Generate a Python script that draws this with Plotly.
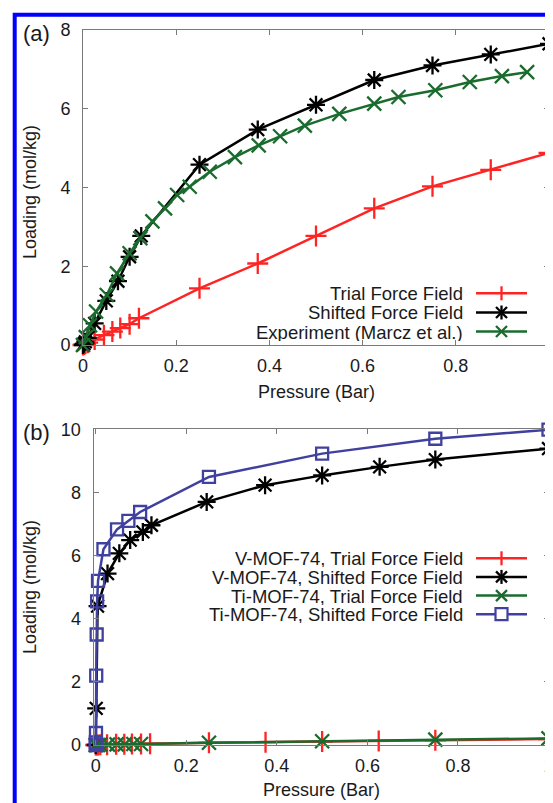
import plotly.graph_objects as go

# ---------------- data: panel (a) ----------------
trial_x = [0, 0.002, 0.005, 0.01, 0.025, 0.045, 0.063, 0.08, 0.1, 0.12, 0.25, 0.375, 0.5, 0.625, 0.75, 0.875, 1.0]
trial_y = [0, 0.01, 0.03, 0.06, 0.14, 0.25, 0.34, 0.43, 0.53, 0.68, 1.44, 2.07, 2.77, 3.47, 4.03, 4.45, 4.88]

shifted_x = [0, 0.002, 0.005, 0.01, 0.025, 0.05, 0.075, 0.1, 0.125, 0.25, 0.375, 0.5, 0.625, 0.75, 0.875, 1.0]
shifted_y = [0, 0.03, 0.08, 0.18, 0.55, 1.12, 1.62, 2.24, 2.77, 4.58, 5.47, 6.1, 6.73, 7.1, 7.38, 7.65]

exp_x = [0.0, 0.006, 0.015, 0.028, 0.051, 0.073, 0.1, 0.123, 0.149, 0.176, 0.202, 0.229, 0.272,
         0.326, 0.377, 0.423, 0.476, 0.55, 0.625, 0.677, 0.756, 0.83, 0.899, 0.953]
exp_y = [0.0, 0.2, 0.5, 0.85, 1.27, 1.82, 2.33, 2.71, 3.14, 3.47, 3.81, 4.02, 4.40,
         4.77, 5.07, 5.30, 5.57, 5.87, 6.13, 6.30, 6.47, 6.68, 6.83, 6.93]

# ---------------- data: panel (b) ----------------
v_trial_x = [0, 0.002, 0.005, 0.01, 0.025, 0.045, 0.063, 0.08, 0.1, 0.12, 0.25, 0.375, 0.5, 0.625, 0.75, 1.0]
v_trial_y = [0, 0.0, 0.0, 0.01, 0.01, 0.02, 0.02, 0.03, 0.03, 0.04, 0.07, 0.09, 0.11, 0.13, 0.15, 0.19]

v_shift_x = [0, 0.001, 0.004, 0.026, 0.052, 0.076, 0.104, 0.123, 0.245, 0.374, 0.5, 0.627, 0.75, 1.0]
v_shift_y = [0, 1.16, 4.4, 5.43, 6.07, 6.49, 6.75, 6.96, 7.70, 8.23, 8.54, 8.81, 9.04, 9.39]

ti_trial_x = [0, 0.002, 0.005, 0.01, 0.027, 0.046, 0.064, 0.083, 0.1, 0.25, 0.5, 0.75, 1.0]
ti_trial_y = [0, 0, 0, 0.01, 0.01, 0.02, 0.02, 0.03, 0.03, 0.07, 0.12, 0.17, 0.21]

ti_shift_x = [0, 0.0002, 0.0005, 0.001, 0.002, 0.003, 0.005, 0.017, 0.047, 0.072, 0.098, 0.25, 0.5, 0.75, 1.0]
ti_shift_y = [0, 0.08, 0.38, 2.2, 3.5, 4.55, 5.2, 6.2, 6.83, 7.1, 7.38, 8.49, 9.23, 9.70, 9.99]

x_ticks = [0, 0.2, 0.4, 0.6, 0.8, 1.0]
x_ticktext = ["0", "0.2", "0.4", "0.6", "0.8", "1"]
ya_ticks = [0, 2, 4, 6, 8]
yb_ticks = [0, 2, 4, 6, 8, 10]

legend_a = ["Trial Force Field", "Shifted Force Field", "Experiment (Marcz et al.)"]
legend_b = ["V-MOF-74, Trial Force Field", "V-MOF-74, Shifted Force Field",
            "Ti-MOF-74, Trial Force Field", "Ti-MOF-74, Shifted Force Field"]

# ---------------- styles ----------------
W, H = 553, 803
OFF = 8  # default page body margin
RED = "#ff2424"
BLACK = "#000000"
GREEN = "#1a6b2e"
BLUE = "#40409f"
FRAME = "#7a7a7a"
FONT = "Liberation Sans, Arial, sans-serif"

def px(x):
    return (x - OFF) / W

def py(y):
    return 1 - (y - OFF) / H

fig = go.Figure()

def add(xs, ys, color, symbol, size, xa, ya):
    fig.add_trace(go.Scatter(
        x=xs, y=ys, mode="lines+markers", xaxis=xa, yaxis=ya,
        line=dict(color=color, width=2.5),
        marker=dict(symbol=symbol, size=size, color=color,
                    line=dict(color=color, width=2.3)),
        cliponaxis=False, showlegend=False, hoverinfo="skip"))

add(trial_x, trial_y, RED, "cross-thin-open", 15, "x", "y")
add(shifted_x, shifted_y, BLACK, "asterisk-open", 15, "x", "y")
add(exp_x, exp_y, GREEN, "x-thin-open", 14, "x", "y")

add(v_trial_x, v_trial_y, RED, "cross-thin-open", 15, "x2", "y2")
add(v_shift_x, v_shift_y, BLACK, "asterisk-open", 15, "x2", "y2")
add(ti_trial_x, ti_trial_y, GREEN, "x-thin-open", 14, "x2", "y2")
add(ti_shift_x, ti_shift_y, BLUE, "square-open", 12, "x2", "y2")

axis_common = dict(
    showgrid=False, zeroline=False, showline=True, linecolor=FRAME, linewidth=1,
    mirror="ticks", ticks="inside", ticklen=5, tickwidth=1, tickcolor=FRAME,
    automargin=False, ticklabeloverflow="allow",
    tickfont=dict(family=FONT, size=18, color="#1a1a1a"),
)

fig.update_layout(
    width=W, height=H,
    margin=dict(l=0, r=0, t=0, b=0, autoexpand=False),
    paper_bgcolor="white", plot_bgcolor="white",
    font=dict(family=FONT, size=18, color="#1a1a1a"),
    xaxis=dict(domain=[px(83), px(549)], range=[0, 1], tickvals=x_ticks, ticktext=x_ticktext,
               anchor="y", ticklabelstandoff=4, **axis_common),
    yaxis=dict(domain=[py(345), py(30)], range=[0, 8], tickvals=ya_ticks,
               anchor="x", ticklabelstandoff=8, **axis_common),
    xaxis2=dict(domain=[px(93.5), px(548.5)], range=[-0.005, 1], tickvals=x_ticks, ticktext=x_ticktext,
                anchor="y2", ticklabelstandoff=4, **axis_common),
    yaxis2=dict(domain=[py(745), py(429.3)], range=[0, 10], tickvals=yb_ticks,
                anchor="x2", ticklabelstandoff=8, **axis_common),
)

shapes = []
annotations = []

# outer blue frame
shapes.append(dict(type="rect", xref="paper", yref="paper",
                   x0=px(14.7), y0=py(14.7), x1=px(620), y1=py(880),
                   line=dict(color="#0000ff", width=4), fillcolor="rgba(0,0,0,0)", layer="above"))

def text(x, y, s, size=18, xanchor="center", angle=0, height=None):
    ann = dict(xref="paper", yref="paper", x=px(x), y=py(y), text=s,
               showarrow=False, xanchor=xanchor, yanchor="middle", borderpad=0,
               textangle=angle, font=dict(family=FONT, size=size, color="#1a1a1a"))
    if height is not None:
        ann["height"] = height
    annotations.append(ann)

def seg(x0, y0, x1, y1, color, w=2.5):
    shapes.append(dict(type="line", xref="paper", yref="paper",
                       x0=px(x0), y0=py(y0), x1=px(x1), y1=py(y1),
                       line=dict(color=color, width=w)))

def key(y, color, kind):
    seg(476, y, 527, y, color)
    cx = 501.5
    r = 7
    d = 5.5
    if kind in ("plus", "star"):
        seg(cx, y - r, cx, y + r, color, 2.3)
    if kind in ("x", "star"):
        seg(cx - d, y - d, cx + d, y + d, color, 2.3)
        seg(cx - d, y + d, cx + d, y - d, color, 2.3)
    if kind == "square":
        shapes.append(dict(type="rect", xref="paper", yref="paper",
                           x0=px(cx - 6), y0=py(y - 6), x1=px(cx + 6), y1=py(y + 6),
                           line=dict(color=color, width=2.2), fillcolor="white"))

# panel labels and axis titles
text(22, 33, "(a)", size=22, xanchor="left")
text(22, 432, "(b)", size=22, xanchor="left")
text(30, 192, "Loading (mol/kg)", angle=-90)
text(30, 587, "Loading (mol/kg)", angle=-90)
text(316, 392, "Pressure (Bar)")
text(321, 790, "Pressure (Bar)")

# legend (a)
rows_a = [293.3, 312.5, 331.5]
for lab, yy, col, kind in zip(legend_a, rows_a, [RED, BLACK, GREEN], ["plus", "star", "x"]):
    text(464, yy, lab, size=18.5, xanchor="right", height=18)
    key(yy, col, kind)

# legend (b)
rows_b = [558.3, 576.9, 595.6, 614.2]
for lab, yy, col, kind in zip(legend_b, rows_b, [RED, BLACK, GREEN, BLUE], ["plus", "star", "x", "square"]):
    text(464, yy, lab, size=18.5, xanchor="right", height=18)
    key(yy, col, kind)

fig.update_layout(shapes=shapes, annotations=annotations)

fig.write_html("out.html")
